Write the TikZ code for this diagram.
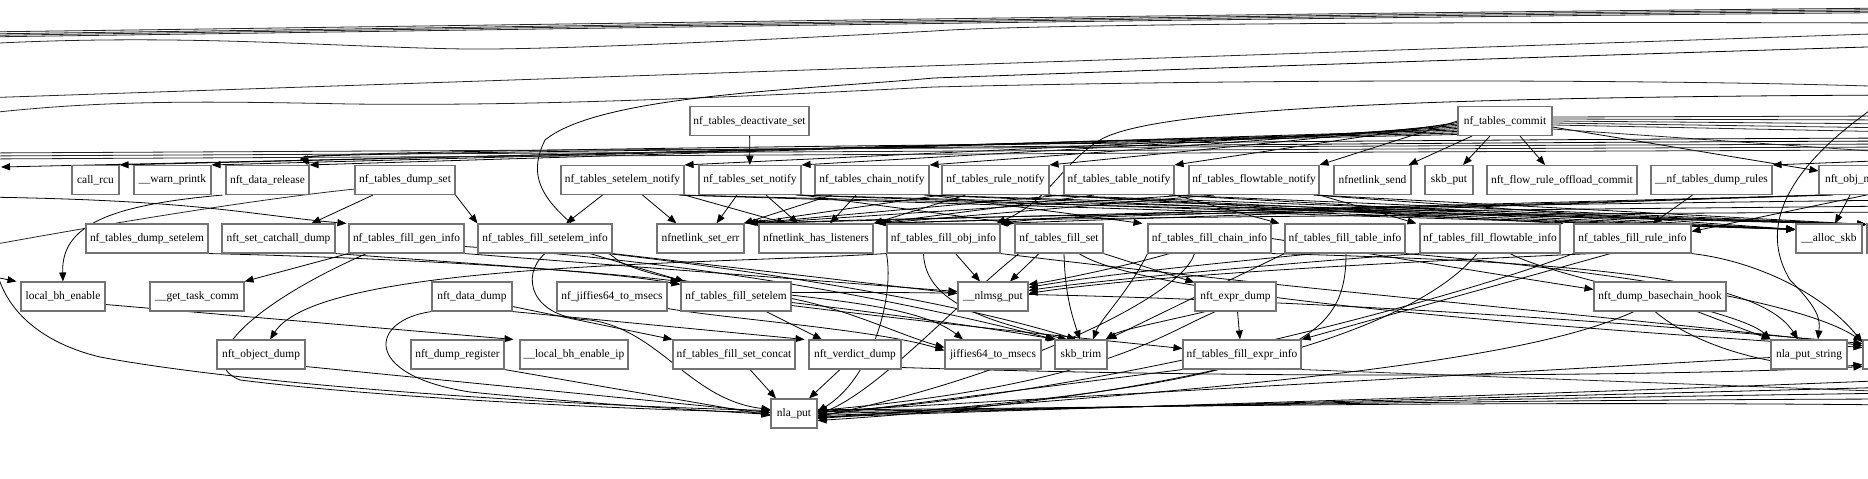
\documentclass[tikz,border=0pt]{standalone}
\usepackage{fontspec}
\setmainfont{Liberation Serif}
\usetikzlibrary{arrows.meta}
\pgfdeclarelayer{bg}
\pgfsetlayers{bg,main}
\tikzset{
  fn/.style={draw=black!55, line width=1.1pt, minimum height=29pt, inner sep=0pt, fill=white, font=\fontsize{11.4}{13}\selectfont},
  e/.style={draw=black, line width=0.8pt, -{Triangle[length=9pt,width=7pt]}},
  ln/.style={draw=black!85, line width=0.8pt},
}
\newcommand\mknode[5]{\node[fn,minimum width=#4pt] (#1) at (#2,#3) {#5};}
\begin{document}
\begin{tikzpicture}[x=1pt,y=-1pt]
\useasboundingbox (0,0) rectangle (1868,479);
\clip (0,0) rectangle (1868,479);
% row 0
\mknode{deact}{749.5}{121}{119}{nf\_tables\_deactivate\_set}
\mknode{commit}{1505}{121}{94}{nf\_tables\_commit}
% row 1
\mknode{callrcu}{95.5}{180}{47}{call\_rcu}
\mknode{warn}{172.5}{180}{77}{\_\_warn\_printk}
\mknode{datarel}{267.5}{180}{83}{nft\_data\_release}
\mknode{dumpset}{405}{180}{100}{nf\_tables\_dump\_set}
\mknode{setelemnotify}{622.5}{180}{123}{nf\_tables\_setelem\_notify}
\mknode{setnotify}{750}{180}{102}{nf\_tables\_set\_notify}
\mknode{chainnotify}{872}{180}{114}{nf\_tables\_chain\_notify}
\mknode{rulenotify}{995.5}{180}{107}{nf\_tables\_rule\_notify}
\mknode{tablenotify}{1119}{180}{110}{nf\_tables\_table\_notify}
\mknode{flownotify}{1254}{180}{130}{nf\_tables\_flowtable\_notify}
\mknode{nlsend}{1372.5}{180}{77}{nfnetlink\_send}
\mknode{skbput}{1449}{180}{48}{skb\_put}
\mknode{offload}{1562}{180}{150}{nft\_flow\_rule\_offload\_commit}
\mknode{dumprules}{1711.5}{180}{121}{\_\_nf\_tables\_dump\_rules}
\mknode{objn}{1858}{180}{78}{nft\_obj\_notify}
% row 2
\mknode{dumpsetelem}{147}{238.5}{122}{nf\_tables\_dump\_setelem}
\mknode{catchall}{278.5}{238.5}{113}{nft\_set\_catchall\_dump}
\mknode{fillgen}{406.5}{238.5}{115}{nf\_tables\_fill\_gen\_info}
\mknode{fillsetelinfo}{545}{238.5}{134}{nf\_tables\_fill\_setelem\_info}
\mknode{seterr}{700.5}{238.5}{87}{nfnetlink\_set\_err}
\mknode{haslist}{816}{238.5}{114}{nfnetlink\_has\_listeners}
\mknode{fillobj}{943.5}{238.5}{113}{nf\_tables\_fill\_obj\_info}
\mknode{fillset}{1059}{238.5}{88}{nf\_tables\_fill\_set}
\mknode{fillchain}{1209.5}{238.5}{123}{nf\_tables\_fill\_chain\_info}
\mknode{filltable}{1345}{238.5}{120}{nf\_tables\_fill\_table\_info}
\mknode{fillflow}{1490}{238.5}{140}{nf\_tables\_fill\_flowtable\_info}
\mknode{fillrule}{1632.5}{238.5}{117}{nf\_tables\_fill\_rule\_info}
\mknode{allocskb}{1829}{238.5}{66}{\_\_alloc\_skb}
\node[fn,minimum width=60pt] (cutA) at (1897,238.5) {};
% row 3
\mknode{localbh}{63}{296.5}{84}{local\_bh\_enable}
\mknode{gettask}{197}{296.5}{94}{\_\_get\_task\_comm}
\mknode{datadump}{472}{296.5}{80}{nft\_data\_dump}
\mknode{nfjiffies}{612}{296.5}{110}{nf\_jiffies64\_to\_msecs}
\mknode{fillsetelem}{736}{296.5}{110}{nf\_tables\_fill\_setelem}
\mknode{nlmsgput}{993}{296.5}{70}{\_\_nlmsg\_put}
\mknode{exprdump}{1235.5}{296.5}{81}{nft\_expr\_dump}
\mknode{basechain}{1660}{296.5}{132}{nft\_dump\_basechain\_hook}
% row 4
\mknode{objdump}{261}{354.5}{88}{nft\_object\_dump}
\mknode{dumpreg}{457.5}{354.5}{93}{nft\_dump\_register}
\mknode{localbhip}{574}{354.5}{108}{\_\_local\_bh\_enable\_ip}
\mknode{setconcat}{734}{354.5}{122}{nf\_tables\_fill\_set\_concat}
\mknode{verdict}{855}{354.5}{92}{nft\_verdict\_dump}
\mknode{jiffies}{993}{354.5}{96}{jiffies64\_to\_msecs}
\mknode{skbtrim}{1081}{354.5}{52}{skb\_trim}
\mknode{exprinfo}{1242}{354.5}{118}{nf\_tables\_fill\_expr\_info}
\mknode{nlastring}{1809}{354.5}{76}{nla\_put\_string}
\node[fn,minimum width=64pt] (cutB) at (1895,354.5) {};
% row 5
\mknode{nlaput}{794}{413.5}{46}{nla\_put}
% free ends
\coordinate (tL1) at (-20,32); \coordinate (tR1) at (1900,8);
\coordinate (tL2) at (-20,34); \coordinate (tR2) at (1900,9.5);
\coordinate (tL3) at (-20,35.5); \coordinate (tR3) at (1900,11);
\coordinate (tL4) at (-20,37); \coordinate (tR4) at (1900,12.5);
\coordinate (tL5) at (-20,44); \coordinate (tR5) at (1900,23);
\coordinate (tL6) at (-20,98); \coordinate (tR6) at (1900,33);
\coordinate (tL7) at (-20,114); \coordinate (tR7) at (1900,87);
\coordinate (tR8) at (1900,46); \coordinate (tR9) at (1900,95);
\coordinate (bR1) at (1900,138); \coordinate (bR2) at (1900,141);
\coordinate (bR3) at (1900,144); \coordinate (bR4) at (1900,147);
\coordinate (bR5) at (1900,150);
\coordinate (bL1) at (-20,153); \coordinate (bL2) at (-20,156);
\coordinate (bL3) at (-20,159); \coordinate (bL0) at (1,167);
\coordinate (cR1) at (1900,116); \coordinate (cR2) at (1900,120);
\coordinate (cR3) at (1900,124); \coordinate (cR4) at (1900,128);
\coordinate (cR5) at (1900,132); \coordinate (cR6) at (1900,153);
\coordinate (mR0) at (1900,160); \coordinate (mR1) at (1900,188);
\coordinate (mR2) at (1900,200); \coordinate (mR3) at (1900,206);
\coordinate (mR4) at (1900,212);
\coordinate (lR1) at (1900,380); \coordinate (lR2) at (1900,387);
\coordinate (lR3) at (1900,393); \coordinate (lR4) at (1900,399);
\coordinate (lR5) at (1900,405); \coordinate (oRx) at (1900,392);
\coordinate (oTR) at (1885,100);
\coordinate (oLa) at (-10,276); \coordinate (oLb) at (-5,262);
\coordinate (oLc) at (-20,197); \coordinate (oLd) at (-20,247);
\begin{pgfonlayer}{bg}
\clip (0,0) rectangle (1868,479);
% top pass-through lines
\draw[ln] (tR1) .. controls (1200,14) and (600,24) .. (tL1);
\draw[ln] (tR2) .. controls (1200,15.5) and (600,26) .. (tL2);
\draw[ln] (tR3) .. controls (1200,17) and (600,27) .. (tL3);
\draw[ln] (tR4) .. controls (1200,18.5) and (600,28.5) .. (tL4);
\draw[ln] (tR5) .. controls (1300,21) and (1000,26) .. (934,31) .. controls (800,38) and (560,50) .. (465,49) .. controls (330,47) and (180,33) .. (tL5);
\draw[ln] (tR6) -- (tL6);
\draw[ln] (tR7) .. controls (1700,80) and (1300,78) .. (934,87) .. controls (700,99) and (520,106) .. (350,104) .. controls (200,101) and (100,100) .. (tL7);
\draw[e] (tR8) .. controls (1500,58) and (1100,72) .. (934,78) .. controls (800,90) and (600,95) .. (545,140) .. controls (520,190) and (560,215) .. (620,262) .. controls (700,300) and (900,290) .. ([xshift=-30pt]jiffies.north);
\draw[e] (tR9) .. controls (1400,97) and (1150,110) .. (1100,140) .. controls (1060,165) and (1050,200) .. ([xshift=-4pt]fillobj.north east);
% commit
\foreach \tg/\s in {flownotify/0pt,tablenotify/1.5pt,rulenotify/3pt,chainnotify/4.5pt,setnotify/6pt,setelemnotify/7.5pt,datarel/9pt,warn/10.5pt,callrcu/12pt}
  \draw[e] ([yshift=-\s]commit.west) -- (\tg.north east);
\draw[e] ([yshift=-13.5pt]commit.west) -- (bL0);
\draw[e] ([xshift=-33pt]commit.south) -- ([xshift=-3pt]nlsend.north east);
\draw[e] ([xshift=-15pt]commit.south) -- ([xshift=14pt]skbput.north);
\draw[e] ([xshift=15pt]commit.south) -- ([xshift=-17pt]offload.north);
\draw[e] ([yshift=-6pt]commit.east) -- ([yshift=-6pt]objn.north west);
\foreach \c/\s in {cR1/4pt,cR2/2pt,cR3/0pt,cR4/-2pt,cR5/-4pt,cR6/-8pt}
  \draw[ln] ([yshift=\s]commit.east) -- (\c);
% band from right
\draw[e] (bR1) .. controls (1300,140) and (300,150) .. (datarel.north east);
\draw[e] (bR2) .. controls (1300,143) and (300,152) .. ([xshift=-2pt]datarel.north east);
\draw[ln] (bR3) .. controls (1300,146) and (600,150) .. (bL1);
\draw[ln] (bR4) .. controls (1300,149) and (600,153) .. (bL2);
\draw[ln] (bR5) .. controls (1300,152) and (600,156) .. (bL3);
\draw[e] (mR0) -- (dumprules.north east);
\draw[e] (mR1) -- ([yshift=7pt]fillrule.east);
\draw[e] (mR2) .. controls (1500,205) and (1100,210) .. ([xshift=-1pt]fillobj.north east);
\draw[e] (mR3) .. controls (1500,210) and (1000,214) .. ([xshift=12pt]seterr.north east);
\draw[e] (mR4) .. controls (1500,214) and (1000,218) .. ([xshift=8pt]haslist.north east);
% deactivate, notify nodes
\draw[e] (deact) -- (setnotify);
\draw[e] ([xshift=-20pt]setelemnotify.south) -- ([xshift=21pt]fillsetelinfo.north);
\draw[e] ([xshift=20pt]setelemnotify.south) -- ([xshift=-24pt]seterr.north);
\draw[e] (setelemnotify.south east) -- ([xshift=-30pt]haslist.north);
\draw[e] ([xshift=-13pt]setnotify.south) -- ([xshift=16pt]seterr.north);
\draw[e] ([xshift=16pt]setnotify.south) -- ([xshift=-18pt]haslist.north);
\draw[e] (setnotify.south east) -- (fillset.north west);
\draw[e] ([xshift=-16pt]chainnotify.south) -- ([xshift=14pt]haslist.north);
\draw[e] ([xshift=-40pt]chainnotify.south) -- ([xshift=-1pt]seterr.north east);
\draw[e] (chainnotify.south east) -- ([xshift=-5pt]fillchain.north west);
\draw[e] (rulenotify.south west) -- ([xshift=2pt]seterr.north east);
\draw[e] ([xshift=-30pt]rulenotify.south) -- (haslist.north east);
\draw[e] (rulenotify.south east) -- ([xshift=-10pt]fillrule.north west);
\draw[e] (tablenotify.south west) -- ([xshift=5pt]seterr.north east);
\draw[e] ([xshift=-25pt]tablenotify.south) -- ([xshift=2pt]haslist.north east);
\draw[e] (tablenotify.south east) -- ([xshift=-5pt]filltable.north west);
\draw[e] (flownotify.south west) -- ([xshift=8pt]seterr.north east);
\draw[e] ([xshift=-40pt]flownotify.south) -- ([xshift=4pt]haslist.north east);
\draw[e] (flownotify.south east) -- ([xshift=-3pt]fillflow.north west);
\foreach \nn in {setelemnotify,setnotify,chainnotify,rulenotify,tablenotify,flownotify} {
  \draw[e] ([xshift=-6pt]\nn.south east) -- ([yshift=-6pt]allocskb.north west);
  \draw[e] ([xshift=-3pt]\nn.south east) -- ([yshift=-1pt]cutA.north west);
}
% obj notify, dump rules
\draw[e] ([xshift=-8pt]objn.south) -- ([xshift=6pt]allocskb.north);
\draw[e] (objn.south west) -- ([xshift=-2pt]fillobj.north east);
\draw[e] ([xshift=-30pt]objn.south) -- ([xshift=10pt]seterr.north east);
\draw[e] ([xshift=-25pt]objn.south) -- ([xshift=6pt]haslist.north east);
\draw[e] ([xshift=-19pt]dumprules.south) -- ([xshift=20pt]fillrule.north);
% dump set, data release
\draw[e] ([xshift=-32pt]dumpset.south) -- ([xshift=33pt]catchall.north);
\draw[e] (dumpset.south east) -- (fillsetelinfo.north west);
\draw[ln] ([yshift=6pt]dumpset.south west) .. controls (250,200) and (100,225) .. (oLd);
\draw[e] ([xshift=-45pt]datarel.south) .. controls (110,205) and (61,225) .. (localbh.north);
\draw[e] (oLa) -- ([xshift=-4pt]localbh.north west);
\draw[e] (oLb) .. controls (0,300) and (30,340) .. (100,357) .. controls (250,385) and (550,405) .. ([yshift=3pt]nlaput.west);
\draw[e] (oLc) .. controls (200,200) and (250,215) .. ([xshift=-2pt]fillgen.north west);
% fill gen info
\draw[e] (fillgen.south west) -- (gettask.north east);
\draw[e] (fillgen.south east) -- ([yshift=5pt]nlmsgput.west);
\draw[e] ([xshift=-40pt]fillgen.south) .. controls (260,300) and (190,360) .. (240,380) .. controls (400,400) and (650,410) .. ([yshift=1pt]nlaput.west);
\draw[e] ([yshift=-8pt]fillgen.east) .. controls (700,262) and (900,300) .. (skbtrim.north west);
% setelem dumps
\draw[e] (dumpsetelem.south east) .. controls (400,258) and (600,270) .. ([yshift=-3pt]fillsetelem.north west);
\draw[e] (catchall.south east) .. controls (450,262) and (600,272) .. ([xshift=-1pt]fillsetelem.north west);
\draw[e] ([xshift=45pt]fillsetelinfo.south) -- ([xshift=4pt]fillsetelem.north west);
\draw[e] (fillsetelinfo.south east) -- ([yshift=3pt]nlmsgput.west);
\draw[e] ([xshift=-5pt]fillsetelinfo.south east) .. controls (750,270) and (950,300) .. ([xshift=-5pt]skbtrim.north);
\draw[e] (fillsetelinfo.south) .. controls (520,275) and (530,318) .. (590,320) .. controls (660,330) and (690,400) .. ([yshift=4pt]nlaput.west);
% fill setelem
\draw[e] ([xshift=30pt]fillsetelem.south) -- ([xshift=-33pt]verdict.north);
\draw[e] ([yshift=-2pt]fillsetelem.east) .. controls (850,310) and (900,335) .. ([yshift=7pt]jiffies.west);
\draw[e] ([yshift=-6pt]fillsetelem.east) .. controls (900,315) and (1000,330) .. ([xshift=2pt]skbtrim.north west);
\draw[e] ([yshift=-9pt]fillsetelem.east) .. controls (950,325) and (1100,340) .. ([yshift=6pt]exprinfo.west);
\draw[e] ([yshift=4pt]fillsetelem.east) .. controls (1200,290) and (1600,320) .. ([yshift=-4pt]cutB.north west);
% data dump, local bh
\draw[e] ([yshift=-10pt]datadump.east) -- (setconcat.north west);
\draw[e] (datadump.south east) -- ([xshift=-4pt]verdict.north west);
\draw[e] (datadump.south west) .. controls (370,320) and (360,375) .. (470,392) .. controls (600,405) and (700,410) .. ([yshift=-1pt]nlaput.west);
\draw[e] ([yshift=-8pt]localbh.east) -- ([xshift=-6pt]localbhip.north west);
\draw[e] (fillobj.south west) .. controls (700,265) and (320,262) .. ([xshift=9pt]objdump.north);
% to nla_put from row 4
\draw[e] ([xshift=16pt]setconcat.south) -- ([xshift=-18pt]nlaput.north);
\draw[e] ([xshift=-15pt]verdict.south) -- ([xshift=15pt]nlaput.north);
\draw[e] ([yshift=-12pt]objdump.east) -- ([yshift=1pt]nlaput.west);
\draw[e] (dumpreg.south east) -- ([yshift=-2pt]nlaput.west);
\draw[e] ([yshift=-13pt]verdict.east) .. controls (1300,380) and (1700,375) .. ([yshift=3pt]cutB.south west);
\draw[e] ([yshift=-12pt]nfjiffies.east) .. controls (720,318) and (880,330) .. ([yshift=4pt]jiffies.west);
% fill obj
\draw[e] ([xshift=12pt]fillobj.south) -- ([xshift=-13pt]nlmsgput.north);
\draw[e] (fillobj.south west) .. controls (895,300) and (870,380) .. ([yshift=2pt]nlaput.east);
\draw[e] ([xshift=-20pt]fillobj.south) .. controls (925,300) and (980,320) .. ([xshift=-14pt]skbtrim.north);
\draw[e] (fillobj.south east) .. controls (1300,290) and (1650,320) .. ([yshift=-6pt]cutB.north west);
% fill set
\draw[e] ([xshift=-20pt]fillset.south) -- ([xshift=17pt]nlmsgput.north);
\draw[e] (fillset.south east) -- ([yshift=-1pt]exprdump.north west);
\draw[e] ([xshift=5pt]fillset.south) .. controls (1065,290) and (1070,310) .. ([xshift=-1pt]skbtrim.north);
\draw[e] ([xshift=-40pt]fillset.south) .. controls (960,300) and (880,390) .. ([yshift=-1pt]nlaput.east);
\draw[e] ([xshift=20pt]fillset.south) .. controls (1150,300) and (1600,330) .. ([yshift=-8pt]cutB.north west);
% fill chain
\draw[e] ([xshift=-15pt]fillchain.south) .. controls (1180,300) and (1000,380) .. ([yshift=-3pt]nlaput.east);
\draw[e] (fillchain.south west) .. controls (1130,290) and (1100,320) .. ([xshift=12pt]skbtrim.north);
\draw[e] ([xshift=-40pt]fillchain.south) .. controls (1130,265) and (1060,280) .. ([yshift=-3pt]nlmsgput.north east);
\draw[e] (fillchain.east) .. controls (1380,255) and (1500,275) .. ([yshift=-8pt]basechain.north west);
\draw[e] (fillchain.south east) .. controls (1600,262) and (1760,280) .. ([xshift=-11pt]nlastring.north);
% fill table
\draw[e] ([xshift=1pt]filltable.south) .. controls (1346,340) and (1300,385) .. ([yshift=-5pt]nlaput.east);
\draw[e] (filltable.south west) -- (skbtrim.north east);
\draw[e] ([xshift=-30pt]filltable.south) .. controls (1200,265) and (1100,275) .. ([yshift=-6pt]nlmsgput.north east);
\draw[e] (filltable.south east) .. controls (1600,270) and (1800,300) .. ([yshift=-2pt]cutB.north west);
% fill flowtable
\draw[e] ([xshift=-13pt]fillflow.south) .. controls (1440,300) and (1300,390) .. ([yshift=-7pt]nlaput.east);
\draw[e] (fillflow.south west) .. controls (1300,262) and (1100,280) .. ([yshift=-9pt]nlmsgput.north east);
\draw[e] ([xshift=20pt]fillflow.south) .. controls (1560,280) and (1740,310) .. (nlastring.north west);
% fill rule
\draw[e] ([xshift=-22pt]fillrule.south) -- (exprinfo.north east);
\draw[e] (fillrule.south west) .. controls (1450,300) and (1100,395) .. ([yshift=1pt]nlaput.east);
\draw[e] ([xshift=-40pt]fillrule.south) .. controls (1400,262) and (1150,275) .. ([yshift=-12pt]nlmsgput.north east);
\draw[e] (fillrule.south east) .. controls (1750,260) and (1820,290) .. ([yshift=-3pt]cutB.north west);
% expr
\draw[e] ([xshift=2pt]exprdump.south) -- ([xshift=-2pt]exprinfo.north);
\draw[e] ([xshift=-20pt]exprdump.south) .. controls (1160,335) and (1100,385) .. ([yshift=3pt]nlaput.east);
\draw[e] ([xshift=-30pt]exprdump.south) .. controls (1170,320) and (1120,330) .. ([xshift=-2pt]skbtrim.north east);
\draw[e] (exprinfo.south west) -- ([yshift=-2pt]nlaput.east);
\draw[ln] (exprinfo.south east) -- (oRx);
% basechain, nla_put_string
\draw[e] ([xshift=37pt]basechain.south) -- (nlastring.north west);
\draw[e] ([xshift=-26pt]basechain.south) .. controls (1560,345) and (1400,380) .. ([yshift=-4pt]nlaput.east);
\draw[e] ([xshift=-5pt]basechain.south) .. controls (1700,350) and (1790,372) .. ([yshift=5pt]cutB.south west);
\draw[e] ([yshift=-3pt]nlastring.west) -- ([yshift=2pt]nlaput.east);
\draw[e] (oTR) .. controls (1780,170) and (1760,230) .. (1790,280) .. controls (1820,310) and (1820,320) .. ([xshift=9pt]nlastring.north);
\foreach \c/\s in {lR1/-4pt,lR2/-2pt,lR3/0pt,lR4/2pt,lR5/4pt}
  \draw[e] (\c) .. controls (1400,400) and (1000,410) .. ([yshift=\s]nlaput.east);
\end{pgfonlayer}
\end{tikzpicture}
\end{document}
